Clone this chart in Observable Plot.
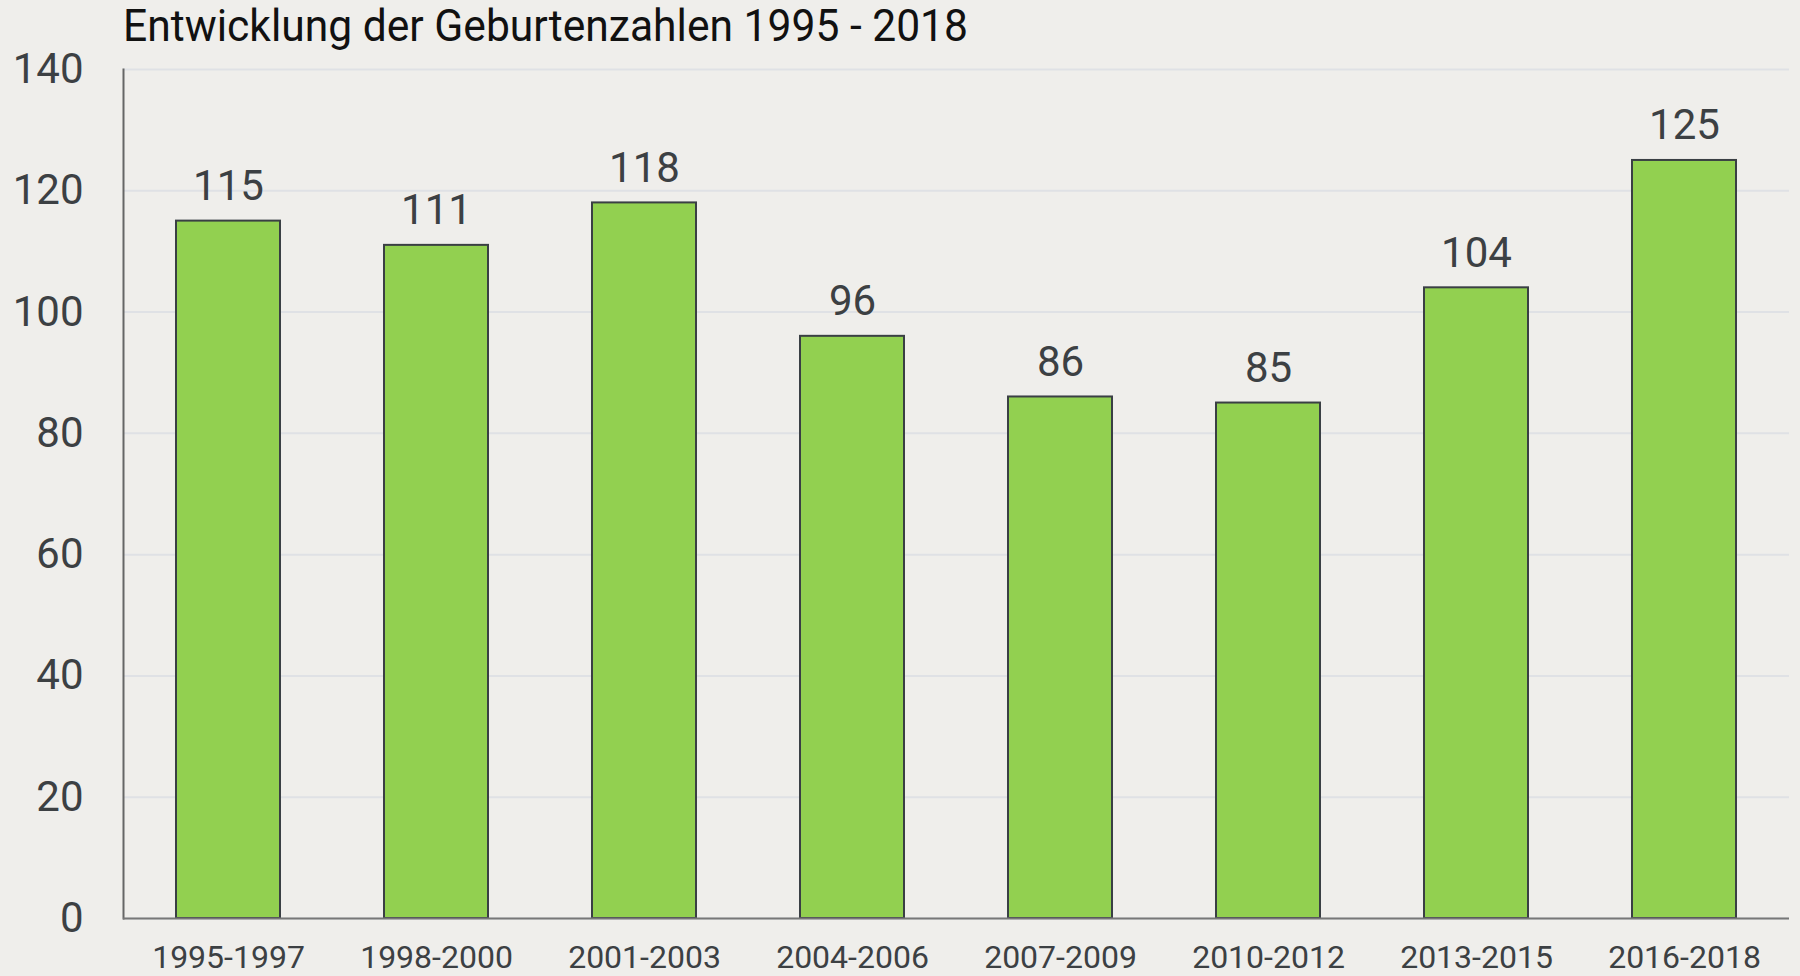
<!DOCTYPE html>
<html>
<head>
<meta charset="utf-8">
<script src="https://cdn.jsdelivr.net/npm/d3@7"></script>
<script src="https://cdn.jsdelivr.net/npm/@observablehq/plot@0.6"></script>
<style>
  html, body { margin: 0; padding: 0; background: #efeeeb; }
  #wrap { width: 1800px; height: 976px; overflow: hidden; position: relative; }
  #title {
    position: absolute; left: 123px; top: 0px; z-index: 2;
    font-family: Roboto, sans-serif; font-size: 45px; color: #111;
    white-space: nowrap; transform-origin: 0 0; line-height: 52px;
  }
  svg { display: block; }
</style>
</head>
<body>
<div id="wrap">
  <div id="title">Entwicklung der Geburtenzahlen 1995 - 2018</div>
  <div id="chart"></div>
</div>
<script>
const periods = ["1995-1997","1998-2000","2001-2003","2004-2006","2007-2009","2010-2012","2013-2015","2016-2018"];
const births = [115, 111, 118, 96, 86, 85, 104, 125];
const yTicks = [0, 20, 40, 60, 80, 100, 120, 140];

const data = periods.map((p, i) => ({period: p, value: births[i]}));

// condense title to match reference width
const t = document.getElementById("title");
const w = t.getBoundingClientRect().width;
t.style.transform = `scaleX(${845 / w})`;

const chart = Plot.plot({
  width: 1800,
  height: 976,
  marginTop: 69,
  marginBottom: 58,
  marginLeft: 123,
  marginRight: 11,
  style: {background: "#efeeeb", fontFamily: "Roboto, sans-serif", color: "#3c4043"},
  x: {domain: periods, padding: 0.5, paddingOuter: 0.25, label: null},
  y: {domain: [0, 140], ticks: yTicks, label: null},
  marks: [
    Plot.gridY(yTicks, {stroke: "#dfe1e5", strokeOpacity: 1, strokeWidth: 2}),
    Plot.axisY(yTicks, {tickSize: 0, tickPadding: 40, fontSize: 42, fill: "#3c4043"}),
    Plot.axisX({tickSize: 0, tickPadding: 27, fontSize: 32, fill: "#3c4043"}),
    Plot.barY(data, {x: "period", y: "value", fill: "#92d050", stroke: "#3a3f44", strokeWidth: 2}),
    Plot.text(data, {x: "period", y: "value", text: d => String(d.value), lineAnchor: "bottom", dy: -21, fontSize: 42, fill: "#3c4043"}),
    Plot.frame({anchor: "left", stroke: "#666", strokeWidth: 2}),
    Plot.ruleY([0], {stroke: "#777", strokeWidth: 2})
  ]
});
document.getElementById("chart").appendChild(chart);
</script>
</body>
</html>
